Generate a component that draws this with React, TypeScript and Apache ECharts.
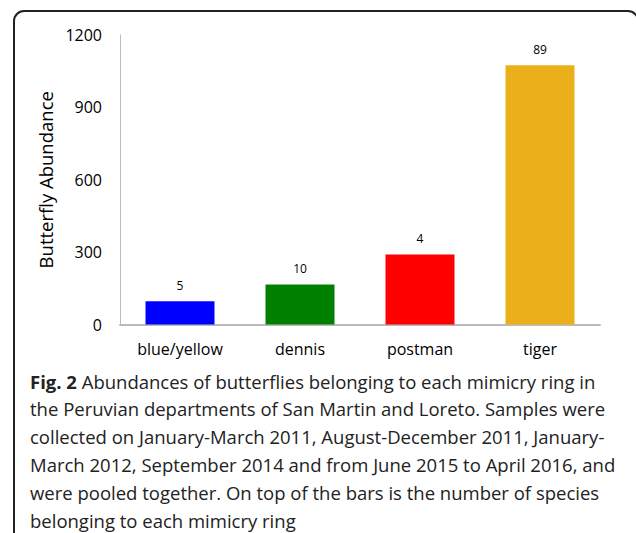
import React, { useEffect, useRef } from "react";
import * as echarts from "echarts";

const categories = ["blue/yellow", "dennis", "postman", "tiger"];
const abundance = [96, 166, 290, 1075];
const species = [5, 10, 4, 89];
const barColors = ["#0000FF", "#008000", "#FF0000", "#EBAF1B"];
const yTicks = { min: 0, max: 1200, interval: 300 };
const captionLines = [
  "{b|Fig. 2} Abundances of butterflies belonging to each mimicry ring in",
  "the Peruvian departments of San Martin and Loreto. Samples were",
  "collected on January-March 2011, August-December 2011, January-",
  "March 2012, September 2014 and from June 2015 to April 2016, and",
  "were pooled together. On top of the bars is the number of species",
  "belonging to each mimicry ring",
];

export default function App() {
  const ref = useRef<HTMLDivElement>(null);
  useEffect(() => {
    const chart = echarts.init(ref.current!, null, { renderer: "svg" });
    const font = "'Open Sans', 'Noto Sans', sans-serif";
    chart.setOption({
      animation: false,
      backgroundColor: "#fff",
      grid: { left: 120, right: 36, top: 35, bottom: 208.5 },
      xAxis: {
        type: "category",
        data: categories,
        axisLine: { lineStyle: { color: "#BBBBBB", width: 2 } },
        axisTick: { show: false },
        axisLabel: { color: "#000", fontSize: 16, fontFamily: font, margin: 16 },
      },
      yAxis: {
        type: "value",
        min: yTicks.min,
        max: yTicks.max,
        interval: yTicks.interval,
        name: "Butterfly Abundance",
        nameLocation: "middle",
        nameGap: 60,
        nameTextStyle: { color: "#000", fontSize: 18.5, fontFamily: font },
        axisLine: { show: true, lineStyle: { color: "#BBBBBB", width: 1 } },
        axisTick: { show: false },
        splitLine: { show: false },
        axisLabel: {
          color: "#000",
          fontSize: 16,
          fontFamily: font,
          margin: 18,
          formatter: (v: number) => String(v),
        },
      },
      series: [
        {
          type: "bar",
          barWidth: "57.5%",
          data: abundance.map((v, i) => ({ value: v, itemStyle: { color: barColors[i] } })),
          label: {
            show: true,
            position: "top",
            distance: 10,
            color: "#000",
            fontSize: 12,
            fontFamily: font,
            formatter: (p: any) => String(species[p.dataIndex]),
          },
        },
      ],
      graphic: [
        {
          type: "rect",
          shape: { x: 14, y: 11, width: 624, height: 600, r: 10 },
          style: { fill: "none", stroke: "#222", lineWidth: 2 },
          silent: true,
        },
        ...captionLines.map((t, i) => ({
          type: "text",
          x: 30,
          y: 381 + i * 27.8,
          style: {
            text: t,
            fill: "#222",
            fontSize: 18.5,
            fontFamily: font,
            verticalAlign: "middle",
            rich: { b: { fontWeight: "bold", fontSize: 18.5, fontFamily: font, fill: "#222" } },
          },
        })),
      ],
    });
    return () => chart.dispose();
  }, []);
  return (
    <div
      ref={ref}
      style={{ position: "fixed", left: 0, top: 0, width: 636, height: 533 }}
    />
  );
}
